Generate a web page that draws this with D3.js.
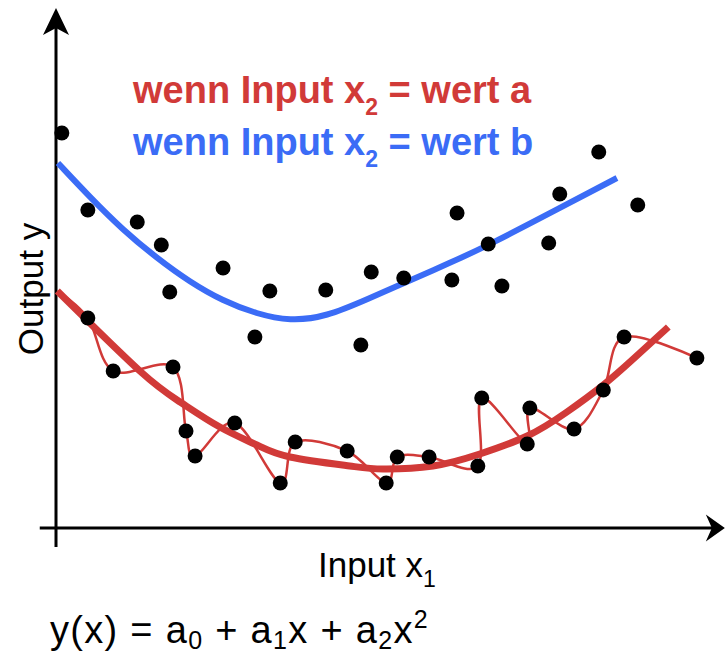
<!DOCTYPE html>
<html>
<head>
<meta charset="utf-8">
<script src="https://cdn.jsdelivr.net/npm/d3@7"></script>
<style>
  html, body { margin: 0; padding: 0; background: #fff; }
  svg { display: block; }
  text { font-family: "Liberation Sans", Arial, Helvetica, sans-serif; }
</style>
</head>
<body>
<svg id="chart" width="725" height="656"></svg>
<script>
// Observations for x2 = wert b (upper cloud)
const blueX = [0.09, 0.49, 1.25, 1.62, 1.75, 2.57, 3.06, 3.29, 4.15, 4.69, 4.85, 5.35, 6.09, 6.17, 6.65, 6.86, 7.58, 7.75, 8.35, 8.95];
const blueY = [7.90, 6.36, 6.12, 5.66, 4.72, 5.20, 3.82, 4.74, 4.76, 3.66, 5.12, 5.00, 4.96, 6.30, 5.68, 4.84, 5.70, 6.68, 7.52, 6.46];

// Observations for x2 = wert a (lower cloud)
const redX = [0.49, 0.88, 1.80, 2.00, 2.14, 2.75, 3.45, 3.68, 4.48, 5.08, 5.25, 5.74, 6.49, 6.55, 7.25, 7.29, 7.97, 8.42, 8.74, 9.86];
const redY = [4.20, 3.14, 3.22, 1.94, 1.44, 2.10, 0.90, 1.72, 1.54, 0.90, 1.42, 1.42, 1.24, 2.60, 1.68, 2.40, 1.98, 2.76, 3.82, 3.40];

// Smooth quadratic fit curves (sampled)
const fitBlueX = [0.03, 0.52, 1.03, 1.55, 2.06, 2.57, 3.09, 3.60, 4.15, 4.83, 5.35, 6.06, 6.66, 7.75, 8.63];
const fitBlueY = [7.30, 6.62, 5.96, 5.40, 4.92, 4.54, 4.28, 4.14, 4.22, 4.60, 4.90, 5.30, 5.66, 6.40, 7.00];
const fitRedX = [0.02, 1.29, 1.91, 2.52, 3.09, 3.60, 4.52, 5.03, 5.80, 6.52, 7.25, 7.86, 8.42, 8.88, 9.42];
const fitRedY = [4.74, 3.14, 2.52, 2.02, 1.66, 1.42, 1.24, 1.18, 1.24, 1.48, 1.84, 2.32, 2.86, 3.38, 4.02];

// Start of the overfitted curve that threads every red observation
const overfitStart = [0.02, 4.74];

const RED = "#d13a38";
const BLUE = "#3b6cf6";

const svg = d3.select("#chart");
const x = d3.scaleLinear().domain([0, 10]).range([56, 706]);
const y = d3.scaleLinear().domain([0, 10]).range([528, 28]);

const zip = (xs, ys) => xs.map((v, i) => [v, ys[i]]);
const line = curve => d3.line().x(d => x(d[0])).y(d => y(d[1])).curve(curve);

// Axes with arrowheads
const ax = svg.append("g").attr("stroke", "#000").attr("fill", "#000");
ax.append("line")
  .attr("x1", x(-0.25)).attr("x2", x(10.2))
  .attr("y1", y(0)).attr("y2", y(0))
  .attr("stroke-width", 3);
ax.append("line")
  .attr("x1", x(0)).attr("x2", x(0))
  .attr("y1", y(-0.38)).attr("y2", y(10.1))
  .attr("stroke-width", 3);
const tipX = [x(10.29), y(0)];
ax.append("path").attr("stroke", "none")
  .attr("d", `M${tipX[0]},${tipX[1]} L${tipX[0] - 19},${tipX[1] - 13.5} L${tipX[0] - 13},${tipX[1]} L${tipX[0] - 19},${tipX[1] + 13.5} Z`);
const tipY = [x(0), y(10.4)];
ax.append("path").attr("stroke", "none")
  .attr("d", `M${tipY[0]},${tipY[1]} L${tipY[0] - 13},${tipY[1] + 27} L${tipY[0]},${tipY[1] + 20} L${tipY[0] + 13},${tipY[1] + 27} Z`);

// Overfitted red line through every point
svg.append("path")
  .datum([overfitStart].concat(zip(redX, redY)))
  .attr("fill", "none").attr("stroke", RED).attr("stroke-width", 2.5)
  .attr("d", line(d3.curveCatmullRom.alpha(0)));

// Fit curves
svg.append("path")
  .datum(zip(fitRedX, fitRedY))
  .attr("fill", "none").attr("stroke", RED).attr("stroke-width", 7)
  .attr("d", line(d3.curveNatural));
svg.append("path")
  .datum(zip(fitBlueX, fitBlueY))
  .attr("fill", "none").attr("stroke", BLUE).attr("stroke-width", 6)
  .attr("d", line(d3.curveBasis));

// Points
svg.append("g").selectAll("circle")
  .data(zip(blueX, blueY).concat(zip(redX, redY)))
  .join("circle")
  .attr("cx", d => x(d[0])).attr("cy", d => y(d[1]))
  .attr("r", 7.5).attr("fill", "#000");

// Legend
function legendLine(yPos, color, suffix) {
  const t = svg.append("text")
    .attr("x", 133).attr("y", yPos)
    .attr("fill", color)
    .attr("font-weight", "bold")
    .attr("font-size", 38);
  t.append("tspan").text("wenn Input x");
  t.append("tspan").attr("dy", 12).attr("font-size", 23).text("2");
  t.append("tspan").attr("dy", -12).text(" = wert " + suffix);
}
legendLine(103, RED, "a");
legendLine(155, BLUE, "b");

// Axis titles
const xt = svg.append("text").attr("x", 318).attr("y", 577)
  .attr("font-size", 35).attr("fill", "#000");
xt.append("tspan").text("Input x");
xt.append("tspan").attr("dy", 10).attr("font-size", 23).text("1");

svg.append("text")
  .attr("transform", "translate(43,289) rotate(-90)")
  .attr("text-anchor", "middle")
  .attr("font-size", 35).attr("fill", "#000")
  .text("Output y");

// Model equation
const eq = svg.append("text").attr("x", 50).attr("y", 643)
  .attr("font-size", 38).attr("letter-spacing", 1.3).attr("fill", "#000");
eq.append("tspan").text("y(x) = a");
eq.append("tspan").attr("dy", 6).attr("font-size", 25).text("0");
eq.append("tspan").attr("dy", -6).text(" + a");
eq.append("tspan").attr("dy", 6).attr("font-size", 25).text("1");
eq.append("tspan").attr("dy", -6).text("x + a");
eq.append("tspan").attr("dy", 6).attr("font-size", 25).text("2");
eq.append("tspan").attr("dy", -6).text("x");
eq.append("tspan").attr("dy", -15).attr("font-size", 25).text("2");
</script>
</body>
</html>
